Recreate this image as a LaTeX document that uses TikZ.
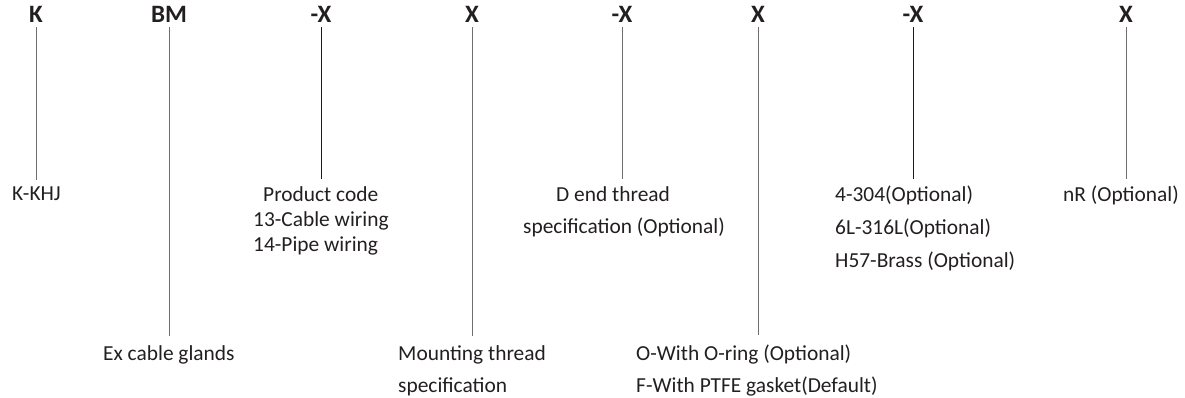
\documentclass[tikz,border=0pt]{standalone}
\usepackage{fontspec}
\setmainfont{Carlito}
\definecolor{txt}{HTML}{231F20}
\definecolor{lgray}{HTML}{6E6E6E}
\definecolor{ldark}{HTML}{1A1A1A}
\begin{document}
\begin{tikzpicture}[x=1pt,y=-1pt,
  head/.style={font=\fontsize{25}{25}\selectfont\bfseries, text=txt, inner sep=0pt, anchor=base},
  lbl/.style={font=\fontsize{21.4}{21.4}\selectfont, text=txt, inner sep=0pt, anchor=base west},
  conn/.style={line width=1pt, draw=lgray},
  connd/.style={line width=1pt, draw=ldark},
  short/.style={shorten <=4pt, shorten >=7pt},
  long/.style={shorten <=4pt, shorten >=9pt}]
\useasboundingbox (0,0) rectangle (1185,398);
% header
\node[head] (h1) at (36,23) {K};
\node[head] (h2) at (169,23) {BM};
\node[head] (h3) at (321,23) {-X};
\node[head] (h4) at (472,23) {X};
\node[head] (h5) at (622,23) {-X};
\node[head] (h6) at (758,23) {X};
\node[head] (h7) at (913,23) {-X};
\node[head] (h8) at (1126,23) {X};
% labels
\node[lbl] (t1) at (12,200.5) {K-KHJ};
\node[lbl] (t2) at (103,360) {Ex cable glands};
\node[lbl] (t3) at (263,201.5) {Product code};
\node[lbl] (t3b) at (253,226.5) {13-Cable wiring};
\node[lbl] (t3c) at (253,251.5) {14-Pipe wiring};
\node[lbl] (t4) at (398,360) {Mounting thread};
\node[lbl] (t4b) at (398,392) {specification};
\node[lbl] (t5) at (556,201.5) {D end thread};
\node[lbl] (t5b) at (523,233.5) {specification (Optional)};
\node[lbl] (t6) at (636,360) {O-With O-ring (Optional)};
\node[lbl] (t6b) at (636,392) {F-With PTFE gasket(Default)};
\node[lbl] (t7) at (835,201.5) {4-304(Optional)};
\node[lbl] (t7b) at (835,234.5) {6L-316L(Optional)};
\node[lbl] (t7c) at (835,267.5) {H57-Brass (Optional)};
\node[lbl] (t8) at (1063,201.5) {nR (Optional)};
% connectors
\draw[conn,short] (h1.south) -- (h1.south |- t1.north);
\draw[conn,long] (h2.south) -- (h2.south |- t2.north);
\draw[connd,short] (h3.south) -- (h3.south |- t3.north);
\draw[conn,long] (h4.south) -- (h4.south |- t4.north);
\draw[conn,short] (h5.south) -- (h5.south |- t5.north);
\draw[conn,long] (h6.south) -- (h6.south |- t6.north);
\draw[connd,short] (h7.south) -- (h7.south |- t7.north);
\draw[conn,short] (h8.south) -- (h8.south |- t8.north);
\end{tikzpicture}
\end{document}
